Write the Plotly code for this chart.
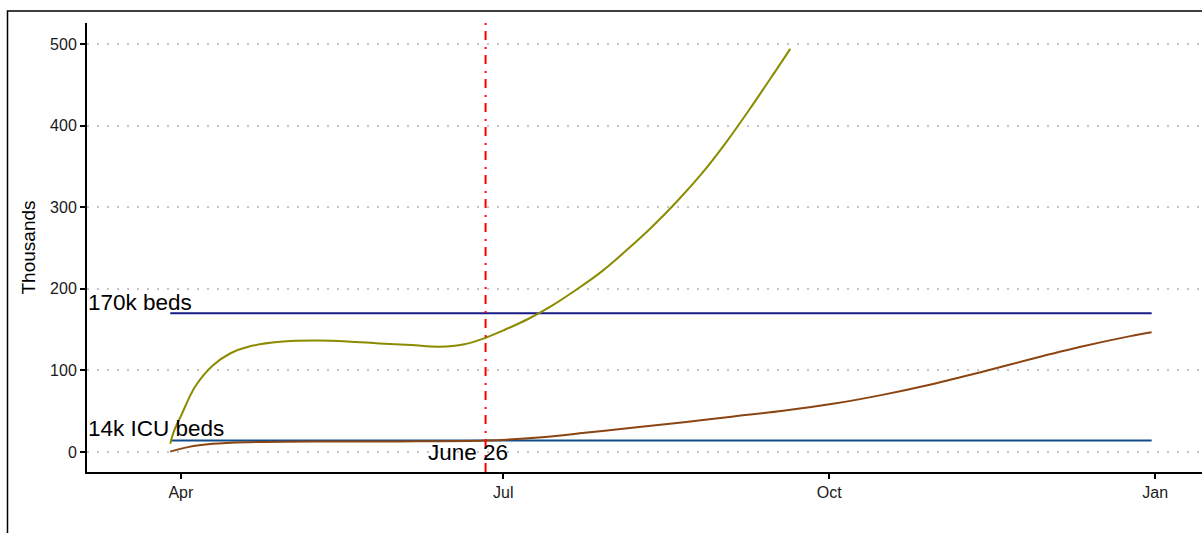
import plotly.graph_objects as go

# ---- data (thousands) ----
hosp_dates = ["2020-03-29", "2020-03-30", "2020-04-01", "2020-04-05", "2020-04-10",
              "2020-04-15", "2020-04-20", "2020-04-29", "2020-05-09", "2020-05-18",
              "2020-05-27", "2020-06-05", "2020-06-13", "2020-06-20", "2020-06-26",
              "2020-07-01", "2020-07-08", "2020-07-15", "2020-07-22", "2020-07-29",
              "2020-08-05", "2020-08-12", "2020-08-19", "2020-08-26", "2020-09-02",
              "2020-09-09", "2020-09-16", "2020-09-20"]
hosp_values = [10, 25, 44, 80, 106, 121, 129, 135, 136.5, 135.5,
               133, 131, 129, 132, 140, 149, 163, 180, 200, 222,
               248, 276, 307, 341, 380, 423, 468, 494]

icu_dates = ["2020-03-29", "2020-04-03", "2020-04-10", "2020-04-20", "2020-05-10",
             "2020-06-01", "2020-06-26", "2020-07-10", "2020-07-24", "2020-08-07",
             "2020-08-21", "2020-09-04", "2020-09-18", "2020-10-02", "2020-10-16",
             "2020-10-30", "2020-11-13", "2020-11-27", "2020-12-11", "2020-12-25",
             "2020-12-31"]
icu_values = [0.5, 6, 10, 12, 13, 13, 14, 17.5, 23.5, 30,
              36.5, 43.5, 50.5, 59, 70, 83, 98, 114, 129, 142,
              146.7]

cap_dates = ["2020-03-29", "2020-12-31"]
beds_capacity = [170, 170]
icu_capacity = [14, 14]

event_date = "2020-06-26"
tick_dates = ["2020-04-01", "2020-07-01", "2020-10-01", "2021-01-01"]
tick_labels = ["Apr", "Jul", "Oct", "Jan"]
y_ticks = [0, 100, 200, 300, 400, 500]

FONT = "Liberation Sans, Arial, sans-serif"

fig = go.Figure()
fig.add_trace(go.Scatter(x=cap_dates, y=beds_capacity, mode="lines",
                         line=dict(color="#1a1a88", width=2), showlegend=False))
fig.add_trace(go.Scatter(x=cap_dates, y=icu_capacity, mode="lines",
                         line=dict(color="#104E8B", width=2), showlegend=False))
fig.add_trace(go.Scatter(x=hosp_dates, y=hosp_values, mode="lines",
                         line=dict(color="#8B8B00", width=2, shape="spline", smoothing=1),
                         showlegend=False))
fig.add_trace(go.Scatter(x=icu_dates, y=icu_values, mode="lines",
                         line=dict(color="#8B4513", width=2, shape="spline", smoothing=1),
                         showlegend=False))

fig.add_shape(type="line", xref="x", yref="paper", x0=event_date, x1=event_date,
              y0=0, y1=1, line=dict(color="red", width=2, dash="9px,6px,2px,7px"))

# outer frame
fig.add_shape(type="rect", xref="paper", yref="paper", x0=-0.0713, x1=1.05,
              y0=-0.3, y1=1.0267, line=dict(color="black", width=1.5),
              fillcolor="rgba(0,0,0,0)", layer="above")

fig.add_annotation(text="170k beds", xref="paper", x=0, xanchor="left", xshift=-1,
                   yref="y", y=182.6, yanchor="middle", showarrow=False,
                   font=dict(family=FONT, size=22.5, color="black"))
fig.add_annotation(text="14k ICU beds", xref="paper", x=0, xanchor="left", xshift=-1,
                   yref="y", y=29.4, yanchor="middle", showarrow=False,
                   font=dict(family=FONT, size=22.5, color="black"))
fig.add_annotation(text="June 26", xref="x", x="2020-06-21", xanchor="center",
                   yref="y", y=-1.2, yanchor="middle", showarrow=False,
                   font=dict(family=FONT, size=22.5, color="black"))

fig.update_layout(
    width=1202, height=533,
    margin=dict(l=87, r=0, t=23, b=61),
    paper_bgcolor="white", plot_bgcolor="white",
    font=dict(family=FONT, color="black"),
    xaxis=dict(type="date", range=["2020-03-05 12:00", "2021-01-14 05:00"],
               tickvals=tick_dates, ticktext=tick_labels,
               showgrid=False, zeroline=False,
               showline=True, linecolor="black", linewidth=2,
               ticks="outside", ticklen=5, tickwidth=2, tickcolor="black",
               tickfont=dict(family=FONT, size=16, color="#1a1a1a")),
    yaxis=dict(range=[-24.5, 525.7], tickvals=y_ticks,
               showgrid=True, gridcolor="#c4c4c4", gridwidth=2, griddash="2px,8px",
               zeroline=False,
               showline=True, linecolor="black", linewidth=2,
               ticks="outside", ticklen=5, tickwidth=2, tickcolor="black",
               tickfont=dict(family=FONT, size=16, color="#1a1a1a"),
               title=dict(text="Thousands", font=dict(family=FONT, size=19, color="black"),
                          standoff=9)),
)

fig.write_html("out.html", config={"displayModeBar": False},
               post_script="document.body.style.margin='0';")
